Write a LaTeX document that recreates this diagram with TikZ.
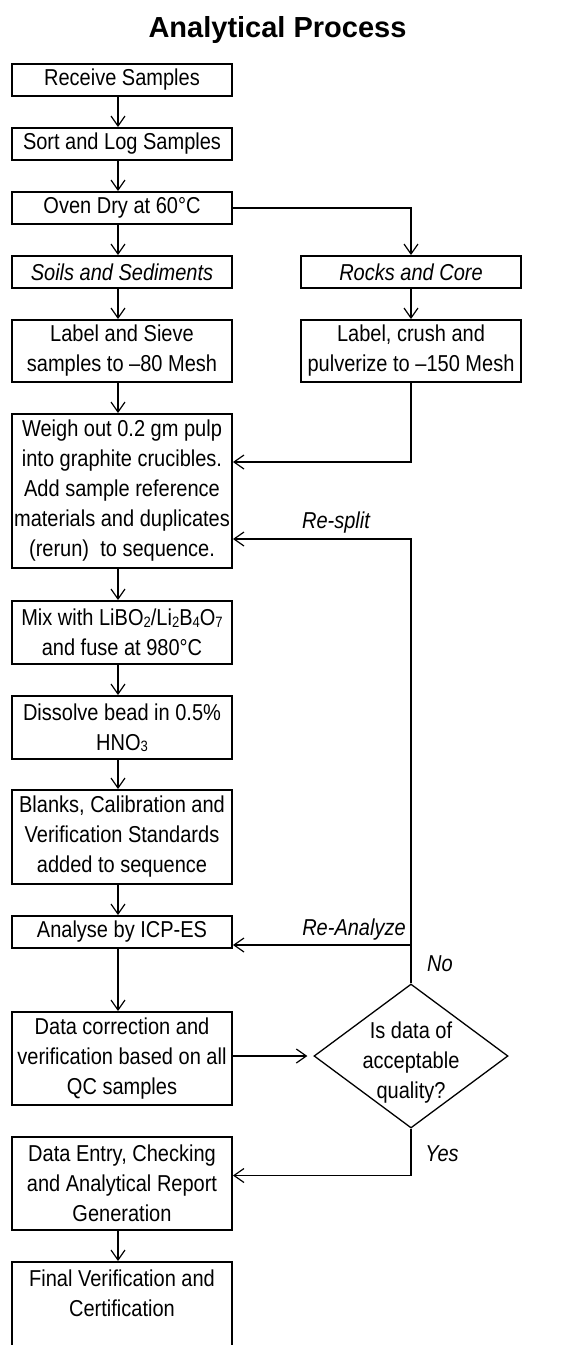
\documentclass[tikz,border=0pt]{standalone}
\usepackage{fontspec}
\setmainfont{Liberation Sans}[FakeStretch=0.87]
\newfontfamily\titlefont{Liberation Sans}
\usetikzlibrary{arrows.meta,shapes.geometric}
\newcommand{\chemsub}[1]{\raisebox{-1.5pt}{\fontsize{15}{15}\selectfont #1}}

\begin{document}
\begin{tikzpicture}[x=1pt,y=-1pt,
  font=\fontsize{23}{30}\selectfont,>={Straight Barb[length=10pt,width=14pt]},
  stepbox/.style={rectangle,draw,line width=1.9pt,minimum width=220pt,inner sep=0pt,align=center},
  decision/.style={diamond,draw,line width=1.3pt,minimum width=194pt,minimum height=144pt,inner sep=-12pt,align=center},
  edge/.style={->,line width=1.2pt},
  branch/.style={font=\fontsize{23}{30}\selectfont\itshape}
]
\useasboundingbox (0,0) rectangle (564,1345);
\clip (0,0) rectangle (564,1345);
% Main column on the left, crushing branch on the right, QC loop returns along x=411.
\node[font=\titlefont\bfseries\fontsize{29}{34}\selectfont,anchor=base] (title) at (277.5,37) {Analytical Process};
\node[stepbox,minimum height=32pt] (receive) at (122,80) {Receive Samples};
\node[stepbox,minimum height=32pt] (sort) at (122,144) {Sort and Log Samples};
\node[stepbox,minimum height=32pt] (oven) at (122,208) {Oven Dry at 60°C};
\node[stepbox,minimum height=32pt,font=\fontsize{23}{30}\selectfont\itshape] (soils) at (122,272) {Soils and Sediments};
\node[stepbox,minimum height=32pt,font=\fontsize{23}{30}\selectfont\itshape] (rocks) at (411,272) {Rocks and Core};
\node[stepbox,minimum height=62pt] (sieve) at (122,351) {Label and Sieve\\samples to –80 Mesh};
\node[stepbox,minimum height=62pt] (crush) at (411,351) {Label, crush and\\pulverize to –150 Mesh};
\node[stepbox,minimum height=154pt] (weigh) at (122,491) {Weigh out 0.2 gm pulp\\into graphite crucibles.\\Add sample reference\\materials and duplicates\\(rerun)\ \ to sequence.};
\node[stepbox,minimum height=63pt] (mix) at (122,632.5) {Mix with LiBO\chemsub{2}/Li\chemsub{2}B\chemsub{4}O\chemsub{7}\\and fuse at 980°C};
\node[stepbox,minimum height=63pt] (dissolve) at (122,727.5) {Dissolve bead in 0.5\%\\HNO\chemsub{3}};
\node[stepbox,minimum height=94pt] (blanks) at (122,837) {Blanks, Calibration and\\Verification Standards\\added to sequence};
\node[stepbox,minimum height=32pt] (analyse) at (122,932) {Analyse by ICP-ES};
\node[stepbox,minimum height=93pt] (datacorr) at (122,1058.5) {Data correction and\\verification based on all\\QC samples};
\node[decision] (quality) at (411,1056) {\raisebox{-6pt}[\height][\depth]{\begin{tabular}{@{}c@{}}Is data of\\acceptable\\quality?\end{tabular}}};
\node[stepbox,minimum height=93pt] (dataentry) at (122,1183.5) {Data Entry, Checking\\and Analytical Report\\Generation};
\node[stepbox,minimum height=93pt] (final) at (122,1308.5) {Final Verification and\\Certification\\\mbox{}};
\foreach \from/\to in {receive/sort,sort/oven,oven/soils,soils/sieve,sieve/weigh,weigh/mix,mix/dissolve,dissolve/blanks,blanks/analyse,analyse/datacorr,dataentry/final}
  \draw[edge] ([xshift=-4pt]\from.south) -- ([xshift=-4pt]\to.north);
\draw[edge] (oven.east) -| (rocks.north);
\draw[edge] (rocks) -- (crush);
\draw[edge] (crush.south) |- ([yshift=29pt]weigh.east);
\draw[edge,shorten >=6pt] (datacorr.east |- quality) -- (quality.west);
\draw[edge] (quality.north) |- ([yshift=-13pt]analyse.east);
\draw[edge] (quality.north) |- ([yshift=-48pt]weigh.east);
\draw[edge] (quality.south) |- ([yshift=8pt]dataentry.east);
\node[branch] (resplit) at (336,523) {Re-split};
\node[branch] (reanalyze) at (354,930) {Re-Analyze};
\node[branch] (no) at (440,964) {No};
\node[branch] (yes) at (442,1154) {Yes};
\end{tikzpicture}
\end{document}
